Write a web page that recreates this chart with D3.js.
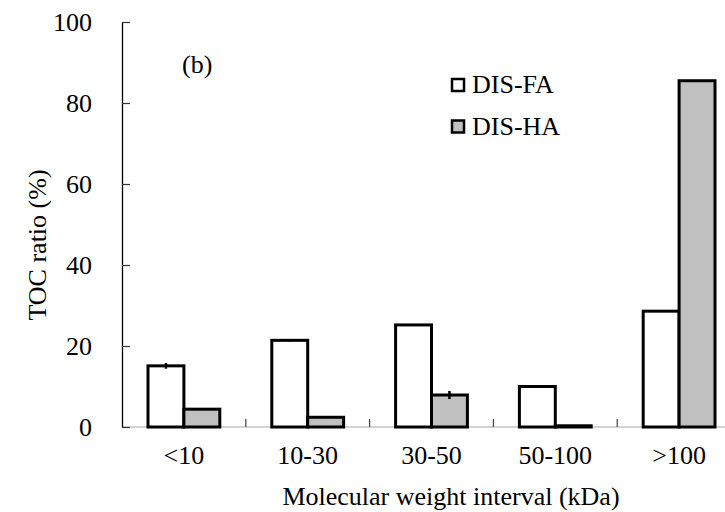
<!DOCTYPE html>
<html>
<head>
<meta charset="utf-8">
<script src="https://cdn.jsdelivr.net/npm/d3@7"></script>
<style>
  body { margin: 0; background: #fff; }
  svg text { font-family: "Liberation Serif", "Times New Roman", serif; fill: #000; }
</style>
</head>
<body>
<svg id="chart" width="725" height="512"></svg>
<script>
// data
var categories = ["<10", "10-30", "30-50", "50-100", ">100"];
var seriesNames = ["DIS-FA", "DIS-HA"];
var faValues = [15.1, 21.4, 25.2, 10.0, 28.6];
var faErrors = [0.7, 0.3, 0, 0, 0];
var haValues = [4.4, 2.4, 7.9, 0.3, 85.5];
var haErrors = [0, 0.2, 1.0, 0, 0];
var yTicks = [0, 20, 40, 60, 80, 100];
var seriesFill = ["#ffffff", "#c0c0c0"];

var svg = d3.select("#chart");

var plotLeft = 122, plotBottom = 427, plotTop = 22, plotRight = 741;

var y = d3.scaleLinear().domain([0, 100]).range([plotBottom, plotTop]);

var x0 = d3.scaleBand()
    .domain(categories)
    .range([plotLeft, plotRight])
    .paddingInner(0.42)
    .paddingOuter(0.21);

var x1 = d3.scaleBand()
    .domain(seriesNames)
    .range([0, x0.bandwidth()]);

// rows for drawing
var rows = [];
for (var i = 0; i < categories.length; i++) {
    rows.push({ cat: categories[i], s: "DIS-FA", v: faValues[i], e: faErrors[i], c: seriesFill[0] });
    rows.push({ cat: categories[i], s: "DIS-HA", v: haValues[i], e: haErrors[i], c: seriesFill[1] });
}

// x axis baseline (light grey) and group separators
svg.append("line")
    .attr("x1", plotLeft).attr("x2", 725)
    .attr("y1", plotBottom).attr("y2", plotBottom)
    .attr("stroke", "#aaa").attr("stroke-width", 1.2);

var step = x0.step();
for (var k = 1; k < categories.length; k++) {
    var sx = plotLeft + k * step;
    svg.append("line")
        .attr("x1", sx).attr("x2", sx)
        .attr("y1", plotBottom).attr("y2", plotBottom - 8)
        .attr("stroke", "#444").attr("stroke-width", 1.2);
}

// bars
svg.selectAll("rect.bar")
    .data(rows)
    .enter()
    .append("rect")
    .attr("class", "bar")
    .attr("x", function (d) { return x0(d.cat) + x1(d.s); })
    .attr("y", function (d) { return y(d.v); })
    .attr("width", x1.bandwidth())
    .attr("height", function (d) { return y(0) - y(d.v); })
    .attr("fill", function (d) { return d.c; })
    .attr("stroke", "#000")
    .attr("stroke-width", 3);

// error bars
svg.selectAll("line.err")
    .data(rows.filter(function (d) { return d.e > 0; }))
    .enter()
    .append("line")
    .attr("class", "err")
    .attr("x1", function (d) { return x0(d.cat) + x1(d.s) + x1.bandwidth() / 2; })
    .attr("x2", function (d) { return x0(d.cat) + x1(d.s) + x1.bandwidth() / 2; })
    .attr("y1", function (d) { return y(d.v + d.e); })
    .attr("y2", function (d) { return y(d.v - d.e); })
    .attr("stroke", "#000")
    .attr("stroke-width", 2.5);

// y axis
var yAxis = d3.axisLeft(y)
    .tickValues(yTicks)
    .tickSizeInner(-8)
    .tickSizeOuter(0)
    .tickPadding(30);

var gy = svg.append("g")
    .attr("transform", "translate(" + plotLeft + ",0)")
    .call(yAxis);
gy.select(".domain").attr("stroke", "#000").attr("stroke-width", 1.3);
gy.selectAll(".tick line").attr("stroke", "#333").attr("stroke-width", 1.2);
gy.selectAll(".tick text")
    .attr("font-size", 26)
    .attr("font-family", "Liberation Serif, Times New Roman, serif");

// category labels
svg.selectAll("text.cat")
    .data(categories)
    .enter()
    .append("text")
    .attr("class", "cat")
    .attr("x", function (d) { return x0(d) + x0.bandwidth() / 2; })
    .attr("y", 464)
    .attr("text-anchor", "middle")
    .attr("font-size", 26)
    .text(function (d) { return d; });

// axis titles
svg.append("text")
    .attr("x", 451)
    .attr("y", 505)
    .attr("text-anchor", "middle")
    .attr("font-size", 26)
    .text("Molecular weight interval (kDa)");

svg.append("text")
    .attr("transform", "translate(46,245) rotate(-90)")
    .attr("text-anchor", "middle")
    .attr("font-size", 26)
    .text("TOC ratio (%)");

// panel label
svg.append("text")
    .attr("x", 182)
    .attr("y", 73)
    .attr("font-size", 26)
    .text("(b)");

// legend
var legend = svg.selectAll("g.leg")
    .data(seriesNames)
    .enter()
    .append("g")
    .attr("class", "leg")
    .attr("transform", function (d, i) { return "translate(452," + (79 + i * 41.5) + ")"; });

legend.append("rect")
    .attr("width", 12).attr("height", 12)
    .attr("fill", function (d, i) { return seriesFill[i]; })
    .attr("stroke", "#000")
    .attr("stroke-width", 2.5);

legend.append("text")
    .attr("x", 20)
    .attr("y", 14)
    .attr("font-size", 26)
    .text(function (d) { return d; });
</script>
</body>
</html>
